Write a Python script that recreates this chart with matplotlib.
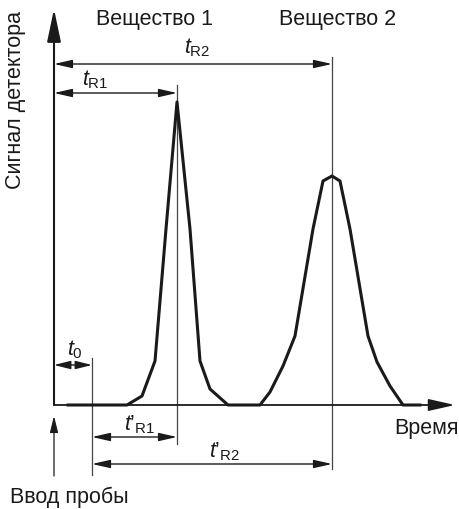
import matplotlib
matplotlib.use('Agg')
import matplotlib.pyplot as plt

plt.rcParams['font.family'] = ['Liberation Sans', 'DejaVu Sans']
plt.rcParams['mathtext.fontset'] = 'custom'
plt.rcParams['mathtext.rm'] = 'Liberation Sans'
plt.rcParams['mathtext.it'] = 'Liberation Sans:italic'

# chromatogram (time, detector signal), arbitrary units
time_pts = [1.4, 7.3, 8.8, 10.1, 11.2, 12.3, 13.6, 14.6, 15.6, 17.4,
            20.6, 21.6, 22.9, 24.1, 25.9, 26.9, 27.8, 28.6, 29.6, 31.4, 32.3, 33.6, 34.9, 36.6]
signal_pts = [0, 0, 0.9, 4.4, 17.6, 30.3, 17.6, 4.4, 1.6, 0,
              0, 1.3, 3.9, 6.9, 17.6, 22.4, 22.9, 22.4, 17.6, 6.9, 4.3, 1.9, 0, 0]

t0 = 3.8
tR1 = 12.3
tR2 = 27.8

peak_names = ['Вещество 1', 'Вещество 2']
ylabel = 'Сигнал детектора'
xlabel = 'Время'
inject_label = 'Ввод пробы'

ink = '#1a1a1a'

fig = plt.figure(figsize=(4.59, 5.10), dpi=100)
ax = fig.add_axes([0, 0, 1, 1])
ax.set_xlim(-5.4, 40.5)
ax.set_ylim(-10.4, 40.6)
ax.axis('off')


def arrow(x0, y0, x1, y1, style, lw, hl, hw, color=ink):
    ax.annotate('', xy=(x1, y1), xytext=(x0, y0),
                arrowprops=dict(arrowstyle='%s,head_length=%s,head_width=%s' % (style, hl, hw),
                                lw=lw, color=color, shrinkA=0, shrinkB=0))


# axes
arrow(0, 0, 0, 39.6, '-|>', 1.5, 2.0, 0.42)
arrow(0, 0, 40.1, 0, '-|>', 1.3, 1.6, 0.36)

# vertical markers
ax.plot([t0, t0], [4.7, -7.0], color='#444444', lw=0.9)
ax.plot([tR1, tR1], [32.0, -3.9], color='#444444', lw=0.9)
ax.plot([tR2, tR2], [34.8, -6.4], color='#444444', lw=0.9)

# chromatogram
ax.plot(time_pts, signal_pts, color=ink, lw=2.2, solid_joinstyle='round')

# dimension arrows
arrow(0, 34.1, tR2, 34.1, '<|-|>', 1.0, 1.1, 0.25)
arrow(0, 31.2, tR1, 31.2, '<|-|>', 1.0, 1.1, 0.25)
arrow(0, 4.0, t0, 4.0, '<|-|>', 1.0, 1.0, 0.25)
arrow(t0, -3.2, tR1, -3.2, '<|-|>', 1.0, 1.1, 0.25)
arrow(t0, -5.9, tR2, -5.9, '<|-|>', 1.0, 1.1, 0.25)

# injection arrow
arrow(0, -7.1, 0, -1.1, '-|>', 0.9, 1.0, 0.25)

# labels
fs = 15.5
ax.text(10.1, 38.6, peak_names[0], fontsize=fs, ha='center', va='center', color=ink)
ax.text(28.4, 38.6, peak_names[1], fontsize=fs, ha='center', va='center', color=ink)
ax.text(-3.9, 30.6, ylabel, fontsize=fs, rotation=90, ha='center', va='center', color=ink)
ax.text(40.45, -2.3, xlabel, fontsize=fs, ha='right', va='center', color=ink)
ax.text(-4.4, -9.1, inject_label, fontsize=fs, ha='left', va='center', color=ink)

ax.text(14.3, 35.8, r'$t_{\rm R2}$', fontsize=fs, ha='center', va='center', color=ink)
ax.text(4.1, 32.6, r'$t_{\rm R1}$', fontsize=fs, ha='center', va='center', color=ink)
ax.text(2.1, 5.6, r'$t_{\rm 0}$', fontsize=fs, ha='center', va='center', color=ink)
ax.text(8.6, -1.9, '$t\u2019_{\\rm R1}$', fontsize=fs, ha='center', va='center', color=ink)
ax.text(17.1, -4.6, '$t\u2019_{\\rm R2}$', fontsize=fs, ha='center', va='center', color=ink)

fig.savefig('out.png', dpi=100)
